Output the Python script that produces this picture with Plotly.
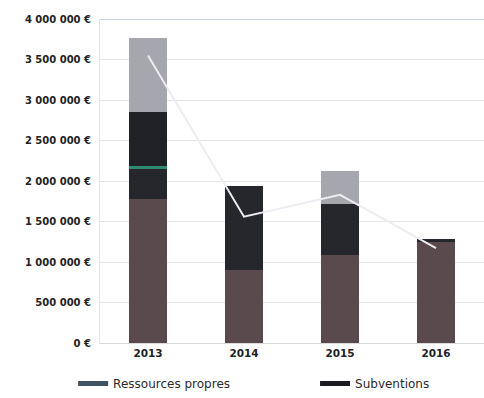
import plotly.graph_objects as go

# Budget by year, stacked by funding source (euros)
years = ["2013", "2014", "2015", "2016"]
ressources_propres = [1780000, 900000, 1090000, 1250000]
subventions = [370000, 1040000, 630000, 40000]
dons = [40000, 0, 0, 0]
emprunts = [660000, 0, 0, 0]
autres = [920000, 0, 400000, 0]
total_charges = [3550000, 1560000, 1830000, 1170000]

tick_vals = [0, 500000, 1000000, 1500000, 2000000, 2500000, 3000000, 3500000, 4000000]
tick_text = ["0 €", "500 000 €", "1 000 000 €", "1 500 000 €", "2 000 000 €",
             "2 500 000 €", "3 000 000 €", "3 500 000 €", "4 000 000 €"]

fig = go.Figure()

stack = [
    ("Ressources propres", ressources_propres, "#5a4a4e"),
    ("Subventions", subventions, "#25272c"),
    ("Dons", dons, "#2f8a70"),
    ("Emprunts", emprunts, "#202226"),
    ("Autres", autres, "#a6a6af"),
]
for name, vals, color in stack:
    fig.add_trace(go.Bar(x=years, y=vals, name=name, marker_color=color,
                         marker_line_width=0, showlegend=False))

fig.add_trace(go.Scatter(x=years, y=total_charges, mode="lines", name="Charges",
                         line=dict(color="#ececf2", width=2), showlegend=False))

# Legend entries drawn as wide line swatches
fig.add_trace(go.Scatter(x=[None], y=[None], mode="lines", name="Ressources propres",
                         line=dict(color="#3f5262", width=5), legend="legend"))
fig.add_trace(go.Scatter(x=[None], y=[None], mode="lines", name="Subventions",
                         line=dict(color="#1c1d21", width=5), legend="legend2"))

legend_style = dict(orientation="h", yanchor="middle", xanchor="left", y=-0.125,
                    font=dict(family="DejaVu Sans", size=12, color="#2a2a2a"),
                    bgcolor="rgba(0,0,0,0)", itemwidth=30, tracegroupgap=0)

fig.update_layout(
    width=484, height=398,
    margin=dict(l=100, r=0, t=19, b=53),
    paper_bgcolor="white", plot_bgcolor="white",
    barmode="stack", bargap=0.6,
    font=dict(family="DejaVu Sans", color="#222222"),
    legend=dict(x=-0.07, **legend_style),
    legend2=dict(x=0.56, **legend_style),
    xaxis=dict(showgrid=False, showline=True, linecolor="#d8d8d8", linewidth=1,
               ticks="", tickfont=dict(family="DejaVu Sans", size=10.5, weight="bold", color="#222")),
    yaxis=dict(range=[0, 4000000], tickvals=tick_vals, ticktext=tick_text,
               showgrid=True, gridcolor="#e4e4e4", gridwidth=1, zeroline=False,
               showline=True, linecolor="#e4e4e4", ticks="", ticklen=0,
               ticklabelstandoff=6,
               tickfont=dict(family="DejaVu Sans", size=10, weight="bold", color="#222")),
    shapes=[dict(type="line", xref="paper", yref="y", x0=0, x1=1, y0=4000000, y1=4000000,
                 line=dict(color="#b9c9e6", width=1.5))],
)

fig.write_html("out.html")
